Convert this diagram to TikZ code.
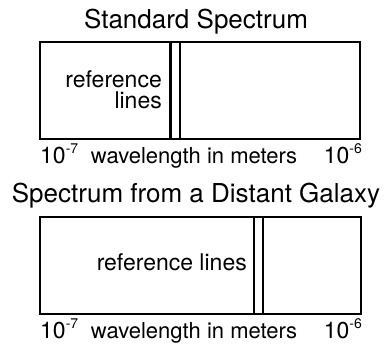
\documentclass[tikz,border=0pt]{standalone}
\usepackage{fontspec}
\setmainfont{TeX Gyre Heros}
\newcommand{\supr}[1]{\raisebox{0.42em}{\fontsize{14}{14}\selectfont #1}}
\begin{document}
\begin{tikzpicture}[x=1pt,y=-1pt,
  box/.style={draw,line width=2pt},
  refline/.style={line width=2.2pt},
  title/.style={font=\fontsize{26}{28}\selectfont,inner sep=0pt,anchor=base},
  lab/.style={font=\fontsize{23}{21}\selectfont,inner sep=0pt},
  axlab/.style={font=\fontsize{22}{22}\selectfont,inner sep=0pt,anchor=base}]
\useasboundingbox (0,0) rectangle (386,349);
% top
\node[title] (t1) at (196,28) {Standard Spectrum};
\draw[box] (40,42) rectangle (360,139);
\coordinate (a1) at (170.5,42); \coordinate (a2) at (170.5,139);
\coordinate (b1) at (180,42); \coordinate (b2) at (180,139);
\draw[refline] (a1) -- (a2);
\draw[refline] (b1) -- (b2);
\node[lab,align=right,anchor=north east] (r1) at (162,70.5) {reference\\lines};
\node[lab,anchor=base west] (l1) at (40,163) {10\supr{-7}};
\node[axlab] (w1) at (194,163) {wavelength in meters};
\node[lab,anchor=base east] (h1) at (362,163) {10\supr{-6}};
% bottom
\node[title] (t2) at (196,202) {Spectrum from a Distant Galaxy};
\draw[box] (40,217) rectangle (361,314);
\coordinate (c1) at (254,217); \coordinate (c2) at (254,314);
\coordinate (d1) at (263,217); \coordinate (d2) at (263,314);
\draw[refline] (c1) -- (c2);
\draw[refline] (d1) -- (d2);
\node[lab,anchor=base east] (r2) at (247,270) {reference lines};
\node[lab,anchor=base west] (l2) at (40,338) {10\supr{-7}};
\node[axlab] (w2) at (194,338) {wavelength in meters};
\node[lab,anchor=base east] (h2) at (362,338) {10\supr{-6}};
\end{tikzpicture}
\end{document}
